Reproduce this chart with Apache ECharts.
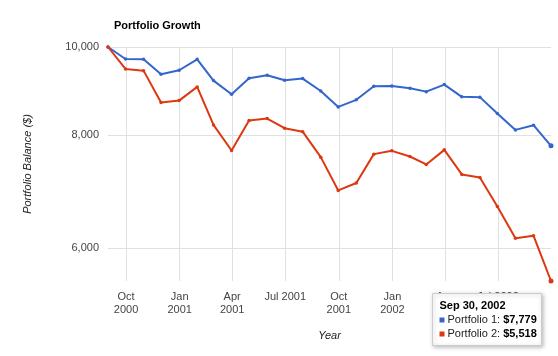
<!DOCTYPE html>
<html><head><meta charset="utf-8">
<script src="https://cdn.jsdelivr.net/npm/echarts@6/dist/echarts.min.js"></script>
<style>html,body{margin:0;padding:0;background:#fff}#c{width:558px;height:356px}</style>
</head><body><div id="c"></div>
<script>
const dates = ['2000-08-31','2000-09-30','2000-10-31','2000-11-30','2000-12-31',
  '2001-01-31','2001-02-28','2001-03-31','2001-04-30','2001-05-31','2001-06-30',
  '2001-07-31','2001-08-31','2001-09-30','2001-10-31','2001-11-30','2001-12-31',
  '2002-01-31','2002-02-28','2002-03-31','2002-04-30','2002-05-31','2002-06-30',
  '2002-07-31','2002-08-31','2002-09-30'];
const portfolio1 = [10000,9700,9695,9331,9426,9693,9182,8869,9237,9307,9190,9228,8943,
  8588,8744,9052,9059,9006,8928,9089,8810,8804,8444,8101,8198,7779];
const portfolio2 = [10000,9457,9417,8683,8727,9036,8204,7688,8294,8338,8136,8064,7559,
  6946,7079,7617,7681,7571,7420,7700,7234,7178,6669,6150,6192,5518];
const seriesNames = ['Portfolio 1','Portfolio 2'];
const yTicks = [6000, 8000, 10000];
const xTicks = ['2000-10-01','2001-01-01','2001-04-01','2001-07-01','2001-10-01',
  '2002-01-01','2002-04-01','2002-07-01'];
const monthNames = ['Jan','Feb','Mar','Apr','May','Jun','Jul','Aug','Sep','Oct','Nov','Dec'];
const colors = ['#3366cc','#dc3912'];
const FONT = 'Arial, "Liberation Sans", sans-serif';

function ts(s){ return Date.parse(s + 'T00:00:00Z'); }
function fmtNum(v){ return Math.round(v).toLocaleString('en-US'); }
function mkData(vals){
  return vals.map((v,i)=>{
    const item = {value:[ts(dates[i]), v]};
    if (i === vals.length-1) item.symbolSize = 5;
    return item;
  });
}
const last = dates.length-1;
const ld = new Date(ts(dates[last]));
const tipTitle = monthNames[ld.getUTCMonth()] + ' ' + ld.getUTCDate() + ', ' + ld.getUTCFullYear();
const xTickVals = xTicks.map(ts);

const chart = echarts.init(document.getElementById('c'), null, {renderer:'canvas'});
chart.setOption({
  animation:false,
  backgroundColor:'#fff',
  title:{text:'Portfolio Growth', left:109, top:15,
    textStyle:{fontFamily:FONT, fontSize:11, fontWeight:'bold', color:'#000'}},
  grid:{left:108, right:7, top:47, bottom:75, containLabel:false},
  xAxis:{
    type:'value',
    min:ts(dates[0]), max:ts(dates[last]),
    name:'Year', nameLocation:'middle', nameGap:49,
    nameTextStyle:{fontFamily:FONT, fontSize:11, fontStyle:'italic', color:'#222'},
    axisLine:{show:false},
    axisTick:{show:false, customValues:xTickVals},
    splitLine:{show:true, lineStyle:{color:'#e0e0e0', width:1}},
    axisLabel:{
      customValues:xTickVals, margin:9, color:'#444', fontFamily:FONT, fontSize:11, lineHeight:13,
      hideOverlap:false,
      formatter:function(v){
        const d = new Date(v);
        const m = d.getUTCMonth();
        return monthNames[m] + (m === 6 ? ' ' : '\n') + d.getUTCFullYear();
      }
    }
  },
  yAxis:{
    type:'log', logBase:10,
    min:portfolio2[last], max:10000,
    name:'Portfolio Balance ($)', nameLocation:'middle', nameGap:75,
    nameTextStyle:{fontFamily:FONT, fontSize:11, fontStyle:'italic', color:'#222'},
    axisLine:{show:false},
    axisTick:{show:false, customValues:yTicks},
    splitLine:{show:true, lineStyle:{color:'#e0e0e0', width:1}},
    axisLabel:{customValues:yTicks, margin:9, color:'#444', fontFamily:FONT, fontSize:11,
      formatter:function(v){ return fmtNum(v); }}
  },
  series:[
    {name:seriesNames[0], type:'line', data:mkData(portfolio1), symbol:'circle', symbolSize:3.5,
      showSymbol:true, lineStyle:{width:2, color:colors[0]}, itemStyle:{color:colors[0]}, z:3},
    {name:seriesNames[1], type:'line', data:mkData(portfolio2), symbol:'circle', symbolSize:3.5,
      showSymbol:true, lineStyle:{width:2, color:colors[1]}, itemStyle:{color:colors[1]}, z:3}
  ],
  graphic:[{
    type:'group', left:432, top:293, z:100,
    children:[
      {type:'rect', z:100, shape:{x:0,y:0,width:109,height:52},
        style:{fill:'#fff', stroke:'#cccccc', lineWidth:1, shadowBlur:4,
          shadowColor:'rgba(0,0,0,0.25)', shadowOffsetX:1, shadowOffsetY:1}},
      {type:'text', z:101, x:7, y:12,
        style:{text:tipTitle, font:'bold 11px ' + FONT, fill:'#000', verticalAlign:'middle'}},
      {type:'rect', z:101, shape:{x:7,y:24,width:5,height:5}, style:{fill:colors[0]}},
      {type:'text', z:101, x:15, y:26.5,
        style:{text:'{n|' + seriesNames[0] + ': }{b|$' + fmtNum(portfolio1[last]) + '}',
          verticalAlign:'middle',
          rich:{n:{fontFamily:FONT, fontSize:11, fill:'#222'},
                b:{fontFamily:FONT, fontSize:11, fontWeight:'bold', fill:'#000'}}}},
      {type:'rect', z:101, shape:{x:7,y:38,width:5,height:5}, style:{fill:colors[1]}},
      {type:'text', z:101, x:15, y:40.5,
        style:{text:'{n|' + seriesNames[1] + ': }{b|$' + fmtNum(portfolio2[last]) + '}',
          verticalAlign:'middle',
          rich:{n:{fontFamily:FONT, fontSize:11, fill:'#222'},
                b:{fontFamily:FONT, fontSize:11, fontWeight:'bold', fill:'#000'}}}}
    ]
  }]
});
</script></body></html>
